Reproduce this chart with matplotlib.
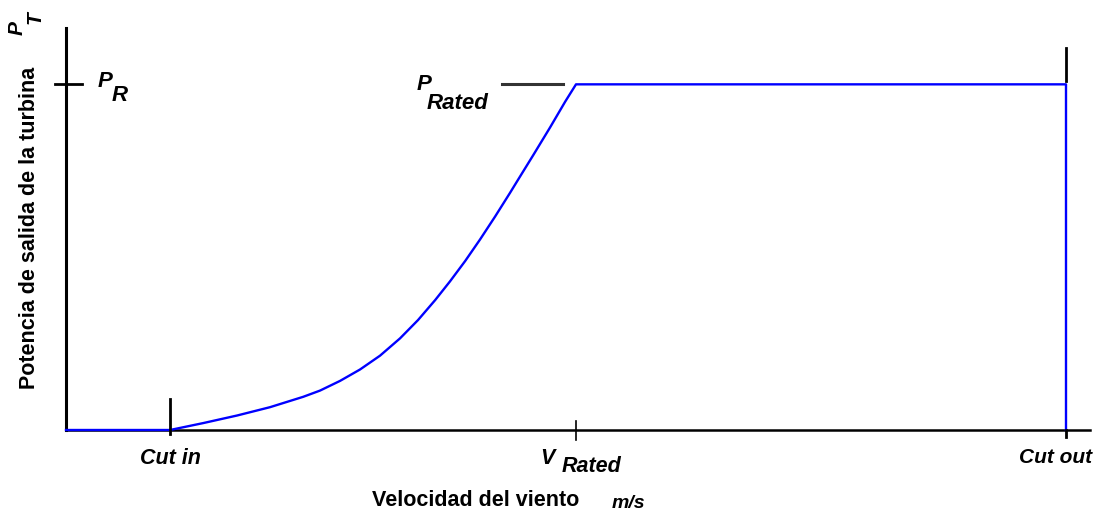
import matplotlib
matplotlib.use("Agg")
import matplotlib.pyplot as plt

# velocidades (m/s)
V_CUT_IN = 2.6
V_RATED = 12.75
V_CUT_OUT = 25.0
X_MAX = 25.6
P_RATED = 1.0
Y_MAX = 1.163

# curva de potencia (potencia normalizada)
curve_v = [0.0, 2.6, 3.43, 4.28, 5.1, 5.93, 6.35, 6.85, 7.35, 7.85, 8.35,
           8.8, 9.23, 9.6, 9.98, 10.35, 10.73, 11.1, 11.28, 11.68, 12.1,
           12.48, 12.75, 25.0, 25.0]
curve_p = [0.0, 0.0, 0.02, 0.042, 0.066, 0.096, 0.114, 0.142, 0.175, 0.215,
           0.265, 0.318, 0.376, 0.43, 0.489, 0.551, 0.618, 0.686, 0.72,
           0.795, 0.875, 0.95, 1.0, 1.0, 0.0]

FONT = "Liberation Sans"

fig = plt.figure(figsize=(10.99, 5.18), dpi=100)
ax = fig.add_axes([66 / 1099, 88 / 518, 1024 / 1099, 402 / 518])
ax.set_xlim(0, X_MAX)
ax.set_ylim(0, Y_MAX)
for s in ("top", "right"):
    ax.spines[s].set_visible(False)
ax.spines["left"].set_linewidth(2.2)
ax.spines["bottom"].set_linewidth(1.8)
ax.set_xticks([])
ax.set_yticks([])

ax.plot(curve_v, curve_p, color="#0000ff", lw=1.7, zorder=3, clip_on=False,
        solid_joinstyle="round")

# marcas
k = dict(color="black", lw=2, clip_on=False, zorder=4)
ax.plot([-0.28, 0.4], [P_RATED, P_RATED], **k)
ax.plot([V_CUT_IN, V_CUT_IN], [-0.012, 0.09], **k)
ax.plot([V_RATED, V_RATED], [-0.03, 0.025], color="black", lw=1.2, clip_on=False)
ax.plot([V_CUT_OUT, V_CUT_OUT], [1.01, 1.105], **k)
ax.plot([V_CUT_OUT, V_CUT_OUT], [-0.02, 0.0], **k)
ax.plot([10.9, 12.43], [P_RATED, P_RATED], color="#333333", lw=2.2, clip_on=False)

bi = dict(family=FONT, weight="bold", style="italic", color="black")
ax.text(0.8, 0.992, "P", fontsize=16, ha="left", va="baseline", **bi)
ax.text(1.15, 0.997, "R", fontsize=16, ha="left", va="top", **bi)
ax.text(8.77, 0.983, "P", fontsize=16, ha="left", va="baseline", **bi)
ax.text(9.02, 0.976, "Rated", fontsize=16, ha="left", va="top", **bi)

tx = ax.get_xaxis_transform()
ax.text(V_CUT_IN, -0.045, "Cut in", fontsize=15.5, ha="center", va="top", transform=tx, **bi)
ax.text(11.85, -0.045, "V", fontsize=15.5, ha="left", va="top", transform=tx, **bi)
ax.text(12.4, -0.065, "Rated", fontsize=15.5, ha="left", va="top", transform=tx, **bi)
ax.text(24.75, -0.045, "Cut out", fontsize=15, ha="center", va="top", transform=tx, **bi)

fig.text(476 / 1099, 17 / 518, "Velocidad del viento", fontsize=15.5, family=FONT,
         weight="bold", ha="center", va="center")
fig.text(628 / 1099, 14 / 518, "m/s", fontsize=14, ha="center", va="center", **bi)

fig.text(30 / 1099, 290 / 518, "Potencia de salida de la turbina", fontsize=15.5,
         family=FONT, weight="bold", rotation=90, ha="center", va="center")
fig.text(17 / 1099, 490 / 518, "P", fontsize=15, rotation=90, ha="center", va="center", **bi)
fig.text(35 / 1099, 500 / 518, "T", fontsize=15, rotation=90, ha="center", va="center", **bi)

fig.savefig("out.png", dpi=100)
